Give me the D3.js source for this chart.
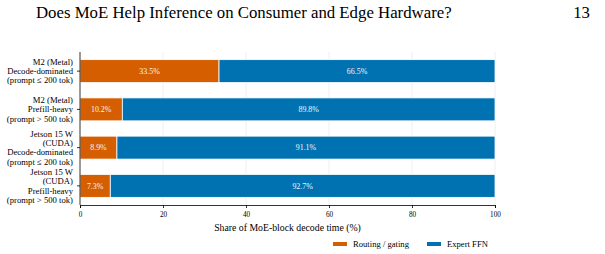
<!DOCTYPE html>
<html>
<head>
<meta charset="utf-8">
<script src="https://cdn.jsdelivr.net/npm/d3@7"></script>
<style>
  body { margin: 0; background: #fff; }
</style>
</head>
<body>
<div id="chart"></div>
<script>
// chart data
const categories = [
  ['M2 (Metal)', 'Decode-dominated', '(prompt \u2264 200 tok)'],
  ['M2 (Metal)', 'Prefill-heavy', '(prompt > 500 tok)'],
  ['Jetson 15 W', '(CUDA)', 'Decode-dominated', '(prompt \u2264 200 tok)'],
  ['Jetson 15 W', '(CUDA)', 'Prefill-heavy', '(prompt > 500 tok)']
]
const routing = [33.5, 10.2, 8.9, 7.3]
const expert = [66.5, 89.8, 91.1, 92.7]
const xTicks = [0, 20, 40, 60, 80, 100]
const seriesNames = ['Routing / gating', 'Expert FFN']
const seriesColors = ['#D55E00', '#0072B2']

const FONT = '"Liberation Serif"'
const W = 605, H = 254
const margin = { left: 80, right: 110, top: 52, bottom: 49 }

const svg = d3.select('#chart').append('svg')
  .attr('width', W).attr('height', H)

// scale a text's font so it spans the given width (Computer Modern is wider than Times)
function fitSize (sample, width, base) {
  const t = svg.append('text').style('font-family', FONT).attr('font-size', base).text(sample)
  const w = t.node().getComputedTextLength()
  t.remove()
  return base * width / w
}

// page header
const headSize = fitSize('Does MoE Help Inference on Consumer and Edge Hardware?', 416, 14)
svg.append('text')
  .attr('x', 36).attr('y', 18)
  .attr('font-size', headSize)
  .text('Does MoE Help Inference on Consumer and Edge Hardware?')
svg.append('text')
  .attr('x', 590).attr('y', 18)
  .attr('text-anchor', 'end')
  .attr('font-size', headSize)
  .text('13')

const xScale = d3.scaleLinear().domain([0, 100]).range([margin.left, W - margin.right])
const yScale = d3.scaleBand()
  .domain(d3.range(categories.length))
  .range([margin.top, H - margin.bottom])
  .paddingInner(0.4).paddingOuter(0.2)

// gridlines
svg.append('g')
  .selectAll('line')
  .data(xTicks.slice(1))
  .join('line')
  .attr('x1', d => xScale(d)).attr('x2', d => xScale(d))
  .attr('y1', margin.top).attr('y2', H - margin.bottom)
  .attr('stroke', '#e8e8e8').attr('stroke-width', 0.7)

// stacked bars
const rows = categories.map((c, i) => [
  { x0: 0, x1: routing[i], v: routing[i], s: 0 },
  { x0: routing[i], x1: routing[i] + expert[i], v: expert[i], s: 1 }
])

const rowG = svg.append('g').selectAll('g')
  .data(rows)
  .join('g')
  .attr('transform', (d, i) => `translate(0,${yScale(i)})`)

rowG.selectAll('rect')
  .data(d => d)
  .join('rect')
  .attr('x', d => xScale(d.x0))
  .attr('width', d => xScale(d.x1) - xScale(d.x0))
  .attr('height', yScale.bandwidth())
  .attr('fill', d => seriesColors[d.s])
  .attr('stroke', '#fff').attr('stroke-width', 0.8)

const barSize = fitSize('66.5%', 20.5, 8)
rowG.selectAll('text')
  .data(d => d)
  .join('text')
  .attr('x', d => xScale((d.x0 + d.x1) / 2))
  .attr('y', yScale.bandwidth() / 2)
  .attr('dy', '0.35em')
  .attr('text-anchor', 'middle')
  .attr('font-size', barSize)
  .attr('fill', '#f4f4f4')
  .text(d => d.v.toFixed(1) + '%')

// x axis
const tickSize = fitSize('20', 7.2, 8)
const xAxis = svg.append('g')
  .attr('transform', `translate(0,${H - margin.bottom})`)
  .call(d3.axisBottom(xScale).tickValues(xTicks).tickSize(3))
xAxis.select('.domain').attr('stroke', '#000').attr('stroke-width', 0.8)
xAxis.selectAll('.tick line').attr('stroke-width', 0.8)
xAxis.selectAll('text').attr('font-size', tickSize).attr('dy', '0.9em')

svg.append('text')
  .attr('x', xScale(50)).attr('y', H - margin.bottom + 26)
  .attr('text-anchor', 'middle')
  .attr('font-size', fitSize('Share of MoE-block decode time (%)', 147, 8))
  .text('Share of MoE-block decode time (%)')

// y axis
const yAxis = svg.append('g')
  .attr('transform', `translate(${margin.left},0)`)
  .call(d3.axisLeft(yScale).tickSize(3).tickFormat(''))
yAxis.select('.domain').attr('stroke', '#000').attr('stroke-width', 0.8)
  .attr('d', `M0,${margin.top}V${H - margin.bottom}`)
yAxis.selectAll('.tick line').attr('stroke-width', 0.8)

const labelSize = fitSize('Decode-dominated', 66, 8)
const lineH = 9.3
svg.append('g').selectAll('text')
  .data(categories)
  .join('text')
  .attr('text-anchor', 'end')
  .attr('font-size', labelSize)
  .each(function (lines, i) {
    const cy = yScale(i) + yScale.bandwidth() / 2
    const y0 = cy - (lines.length - 1) * lineH / 2
    d3.select(this).selectAll('tspan')
      .data(lines)
      .join('tspan')
      .attr('x', margin.left - 7)
      .attr('y', (d, k) => y0 + k * lineH)
      .attr('dy', '0.35em')
      .text(d => d)
  })

// legend
const legendSize = fitSize('Routing / gating', 56, 8)
const legend = svg.append('g').attr('transform', `translate(333,${H - 10})`)
const items = legend.selectAll('g')
  .data(seriesNames)
  .join('g')
  .attr('transform', (d, i) => `translate(${i * 94},0)`)
items.append('rect')
  .attr('x', 0).attr('y', -2).attr('width', 14).attr('height', 4)
  .attr('fill', (d, i) => seriesColors[i])
items.append('text')
  .attr('x', 20).attr('y', 0).attr('dy', '0.35em')
  .attr('font-size', legendSize)
  .text(d => d)

// serif on every text element
svg.selectAll('text').style('font-family', FONT)
</script>
</body>
</html>
